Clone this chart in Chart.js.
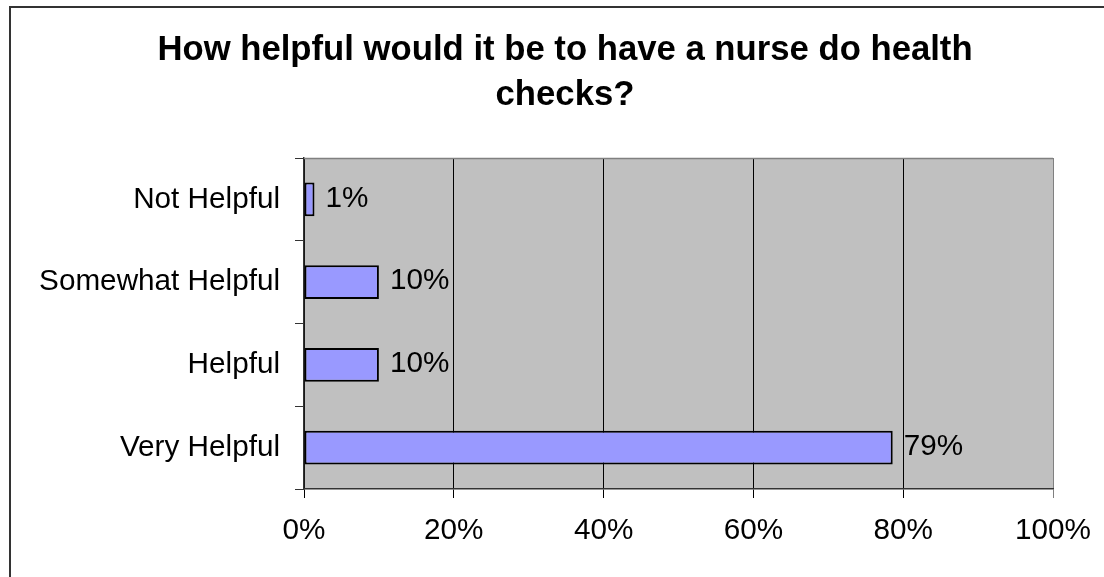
<!DOCTYPE html>
<html>
<head>
<meta charset="utf-8">
<script src="https://cdn.jsdelivr.net/npm/chart.js@4/dist/chart.umd.min.js"></script>
<style>
  html, body { margin: 0; padding: 0; background: #fff; overflow: hidden; width: 1104px; height: 577px; }
  #frame { position: absolute; left: 9px; top: 6px; width: 1108px; height: 571px;
           border-left: 2px solid #333; border-top: 2px solid #333; }
  canvas { display: block; }
</style>
</head>
<body>
<div id="frame"><canvas id="c" width="1108" height="569"></canvas></div>
<script>
const categories = ["Not Helpful", "Somewhat Helpful", "Helpful", "Very Helpful"];
const percentValues = [1.4, 10, 10, 78.6];
const xTickValues = [0, 20, 40, 60, 80, 100];
const titleLines = ["How helpful would it be to have a nurse do health", "checks?"];

const FONT = "'Liberation Sans', Arial, sans-serif";
Chart.defaults.color = '#000';
Chart.defaults.font.family = FONT;

const plotBg = {
  id: 'plotBg',
  beforeDraw(chart) {
    const {ctx, chartArea: a} = chart;
    ctx.save();
    ctx.fillStyle = '#c0c0c0';
    ctx.fillRect(a.left, a.top, a.right - a.left, a.bottom - a.top);
    ctx.restore();
  },
  afterDraw(chart) {
    const {ctx, chartArea: a} = chart;
    ctx.save();
    ctx.strokeStyle = '#808080';
    ctx.lineWidth = 1.5;
    ctx.beginPath();
    ctx.moveTo(a.left, a.top + 0.5);
    ctx.lineTo(a.right, a.top + 0.5);
    ctx.stroke();
    ctx.restore();
  }
};

const valueLabels = {
  id: 'valueLabels',
  afterDatasetsDraw(chart) {
    const {ctx} = chart;
    const meta = chart.getDatasetMeta(0);
    ctx.save();
    ctx.font = "29.7px " + FONT;
    ctx.fillStyle = '#000';
    ctx.textAlign = 'left';
    ctx.textBaseline = 'middle';
    meta.data.forEach((bar, i) => {
      const v = chart.data.datasets[0].data[i];
      ctx.fillText(Math.round(v) + '%', bar.x + 11, bar.y - 1);
    });
    ctx.restore();
  }
};

new Chart(document.getElementById('c'), {
  type: 'bar',
  data: {
    labels: categories,
    datasets: [{
      data: percentValues,
      backgroundColor: '#9999ff',
      borderColor: '#000',
      borderWidth: 2,
      borderSkipped: false,
      categoryPercentage: 1,
      barPercentage: 0.41
    }]
  },
  options: {
    indexAxis: 'y',
    responsive: false,
    animation: false,
    layout: { padding: 0 },
    plugins: {
      legend: { display: false },
      tooltip: { enabled: false },
      title: {
        display: true,
        text: titleLines,
        color: '#000',
        font: { family: FONT, size: 34.7, weight: 'bold', lineHeight: 45 / 34.7 },
        padding: { top: 20, bottom: 40 }
      }
    },
    scales: {
      x: {
        min: 0, max: 100,
        afterBuildTicks(scale) { scale.ticks = xTickValues.map(v => ({ value: v })); },
        afterFit(scale) { scale.height = 88; scale.paddingRight = 66; },
        ticks: {
          font: { family: FONT, size: 29.7 },
          color: '#000',
          padding: 15,
          maxRotation: 0,
          callback: v => v + '%'
        },
        grid: {
          color: c => (c.tick && c.tick.value === 100) ? '#808080' : '#000',
          lineWidth: 1,
          tickLength: 9,
          drawTicks: true
        },
        border: { color: '#333', width: 1.5 }
      },
      y: {
        afterFit(scale) { scale.width = 293; },
        ticks: {
          font: { family: FONT, size: 29.7 },
          color: '#000',
          padding: 15
        },
        grid: {
          drawOnChartArea: false,
          drawTicks: true,
          tickLength: 9,
          color: '#333',
          offset: true
        },
        border: { color: '#333', width: 1.5 }
      }
    }
  },
  plugins: [plotBg, valueLabels]
});
</script>
</body>
</html>
